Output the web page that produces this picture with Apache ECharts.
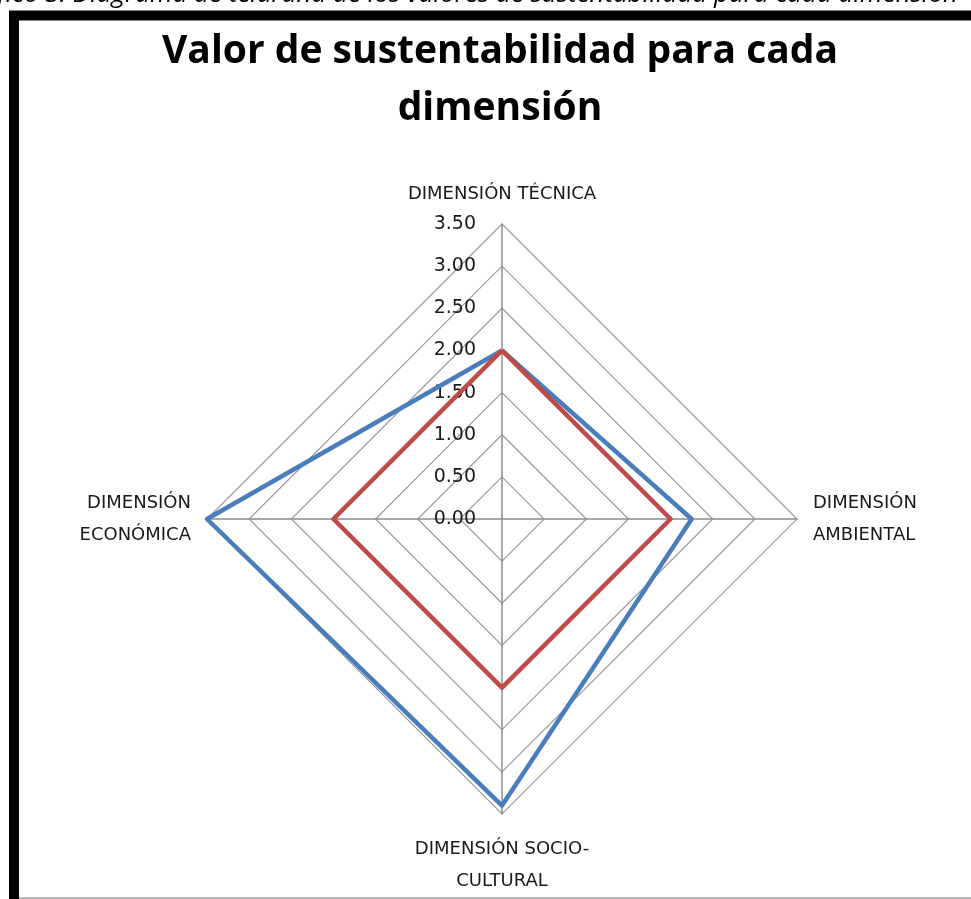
<!DOCTYPE html>
<html>
<head>
<meta charset="utf-8">
<title>Valor de sustentabilidad para cada dimensión</title>
<script src="https://cdn.jsdelivr.net/npm/echarts@6/dist/echarts.min.js"></script>
<style>
  html, body { margin: 0; padding: 0; background: #fff; }
  #chart { width: 971px; height: 899px; }
</style>
</head>
<body>
<div id="chart"></div>
<script>
// dimensions in the order of the original sheet (clockwise from the top)
var dimensions = ['DIMENSIÓN TÉCNICA', 'DIMENSIÓN\nAMBIENTAL', 'DIMENSIÓN SOCIO-\nCULTURAL', 'DIMENSIÓN\nECONÓMICA'];
var serieAzul = [2.00, 2.25, 3.40, 3.50];
var serieRoja = [2.00, 2.00, 2.00, 2.00];
var maxValor = 3.5;
var divisiones = 7;

(function(){
    var myChart = echarts.init(document.getElementById('chart'));

    // echarts radar goes counter-clockwise, so reverse after the first one
    var orden = [0, 3, 2, 1];
    var indicators = orden.map(function(i, k){
        var ind = {name: dimensions[i], max: maxValor, min: 0};
        if (k == 0) {
            ind.axisLabel = {show: true};
        }
        return ind;
    });
    function reorder(arr){
        return orden.map(function(i){ return arr[i]; });
    }

    var option = {
        backgroundColor: '#fff',
        title: {
            text: 'Valor de sustentabilidad para cada\ndimensión',
            left: 495,
            textAlign: 'center',
            top: 18,
            textStyle: {
                fontFamily: 'Open Sans',
                fontWeight: 'bold',
                fontSize: 39,
                lineHeight: 57,
                color: '#000'
            }
        },
        radar: {
            center: [502, 519],
            radius: 295,
            startAngle: 90,
            shape: 'polygon',
            splitNumber: divisiones,
            nameGap: 8,
            axisName: {
                color: '#1a1a1a',
                fontFamily: 'DejaVu Sans',
                fontSize: 18,
                lineHeight: 32,
                padding: [11, 8, 4, 8]
            },
            axisLine: {lineStyle: {color: '#8c8c8c', width: 1.5}},
            splitLine: {lineStyle: {color: '#9c9c9c', width: 1.2}},
            splitArea: {show: false},
            axisTick: {show: false},
            axisLabel: {
                show: false,
                fontFamily: 'DejaVu Sans',
                fontSize: 19,
                color: '#1a1a1a',
                margin: 26,
                formatter: function(v){ return v.toFixed(2); }
            },
            indicator: indicators
        },
        series: [{
            type: 'radar',
            symbol: 'none',
            silent: true,
            data: [
                {value: reorder(serieAzul), name: 'Serie 1', lineStyle: {color: '#4a7ebb', width: 4.5}},
                {value: reorder(serieRoja), name: 'Serie 2', lineStyle: {color: '#be4b48', width: 4.5}}
            ]
        }],
        graphic: [
            {
                type: 'text', right: 13, top: -18,
                style: {
                    text: 'Gráfico 3. Diagrama de telaraña de los valores de sustentabilidad para cada dimensión',
                    font: 'italic 26px "Open Sans"',
                    fill: '#000'
                }
            },
            {
                type: 'polyline',
                shape: {points: [[14, 899], [14, 15.5], [971, 15.5]]},
                style: {stroke: '#000', lineWidth: 10, fill: null}
            },
            {
                type: 'line',
                shape: {x1: 19, y1: 898, x2: 971, y2: 898},
                style: {stroke: '#a0a0a0', lineWidth: 1.5}
            }
        ]
    };
    myChart.setOption(option);
})();
</script>
</body>
</html>
